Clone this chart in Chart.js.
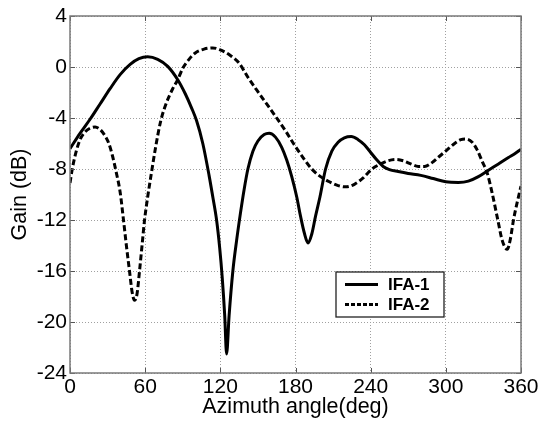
<!DOCTYPE html>
<html><head><meta charset="utf-8">
<script src="https://cdn.jsdelivr.net/npm/chart.js@4.4.1/dist/chart.umd.min.js"></script>
<style>html,body{margin:0;padding:0;background:#fff;}#wrap{width:542px;height:424px;}</style>
</head><body><div id="wrap"><canvas id="c" width="542" height="424"></canvas></div>
<script>
const seriesLabels = ['IFA-1', 'IFA-2'];
const xTicks = [0, 60, 120, 180, 240, 300, 360];
const yTicks = [4, 0, -4, -8, -12, -16, -20, -24];

const ifa1Angles = [0, 8, 16, 24, 32, 40, 48, 55, 62, 70, 78, 86, 92, 97, 101, 106, 111, 114, 117, 119.5, 121.5, 123.5, 125, 127, 130, 133, 136, 139, 142, 146, 150, 155, 159, 164, 169, 173, 177, 181, 184, 187, 190, 193, 196, 199.5, 204, 209, 214, 219, 224.5, 230, 235, 240, 245, 250, 255, 262, 270, 280, 290, 300, 310, 318, 326, 334, 342, 350, 355, 360];
const ifa1Gain = [-6.4, -5.2, -4.1, -2.9, -1.7, -0.6, 0.2, 0.65, 0.8, 0.6, 0.05, -1.0, -2.1, -3.2, -4.2, -6.0, -8.5, -10.2, -12.0, -14.2, -16.5, -19.5, -22.5, -19.5, -16.0, -13.6, -11.5, -9.6, -8.0, -6.6, -5.8, -5.3, -5.2, -5.5, -6.3, -7.3, -8.6, -10.2, -11.7, -13.0, -13.8, -13.1, -11.7, -10.2, -8.0, -6.6, -5.9, -5.55, -5.45, -5.7, -6.1, -6.7, -7.3, -7.8, -8.05, -8.2, -8.35, -8.5, -8.75, -9.0, -9.05, -8.95, -8.6, -8.1, -7.6, -7.1, -6.8, -6.45];

const ifa2Angles = [0, 2, 5, 8, 12, 16, 20, 24, 28, 31, 34, 37, 40, 42.7, 45, 47.5, 49.5, 51.5, 53.5, 55.5, 57.5, 59.5, 62, 65, 68.5, 72.5, 77, 82, 86, 90, 95, 100, 107, 114, 121, 128, 135, 142, 149, 157, 165, 172, 179, 186, 193, 200, 207, 214, 220, 227, 234, 241, 248, 254, 260, 266, 272, 278, 283, 289, 295, 301, 307, 312, 316, 321, 325, 329, 333, 337, 341.5, 345, 349, 351.5, 354, 357, 360];
const ifa2Gain = [-9.1, -7.9, -6.6, -5.7, -5.1, -4.8, -4.7, -4.9, -5.4, -6.0, -7.0, -8.3, -9.8, -12.0, -14.0, -16.0, -17.6, -18.3, -17.8, -16.0, -14.0, -12.0, -10.2, -8.3, -6.2, -4.2, -2.8, -1.7, -1.0, -0.1, 0.6, 1.1, 1.4, 1.5, 1.3, 0.9, 0.3, -0.8, -1.8, -2.9, -4.0, -5.0, -6.1, -7.1, -8.0, -8.6, -9.0, -9.3, -9.4, -9.2, -8.7, -8.0, -7.6, -7.35, -7.25, -7.35, -7.6, -7.8, -7.8, -7.5, -7.0, -6.5, -6.0, -5.7, -5.65, -5.9, -6.5, -7.4, -8.3, -9.9, -12.0, -13.6, -14.3, -13.5, -12.0, -10.6, -9.35];

const FONT = "'Liberation Sans', Arial, sans-serif";
const toPts = (xs, ys) => xs.map((v, i) => ({x: v, y: ys[i]}));

const framePlugin = {
  id: 'frame',
  afterDatasetsDraw(chart) {
    const {ctx, chartArea: {left, right, top, bottom}, scales: {x, y}} = chart;
    ctx.save();
    ctx.strokeStyle = '#555';
    ctx.lineWidth = 1;
    ctx.beginPath();
    x.ticks.forEach(t => {
      const px = Math.round(x.getPixelForValue(t.value)) + 0.5;
      ctx.moveTo(px, bottom); ctx.lineTo(px, bottom - 5);
      ctx.moveTo(px, top); ctx.lineTo(px, top + 5);
    });
    y.ticks.forEach(t => {
      const py = Math.round(y.getPixelForValue(t.value)) + 0.5;
      ctx.moveTo(left, py); ctx.lineTo(left + 5, py);
      ctx.moveTo(right, py); ctx.lineTo(right - 5, py);
    });
    ctx.stroke();
    ctx.strokeStyle = '#7a7a7a';
    ctx.lineWidth = 1.5;
    ctx.strokeRect(left, top, right - left, bottom - top);
    const bx = 336, by = 272, bw = 108, bh = 45;
    ctx.fillStyle = '#fff';
    ctx.fillRect(bx, by, bw, bh);
    ctx.strokeStyle = '#222';
    ctx.lineWidth = 1.3;
    ctx.strokeRect(bx, by, bw, bh);
    chart.data.datasets.forEach((ds, i) => {
      const ly = by + 12.5 + i * 20;
      ctx.strokeStyle = ds.borderColor;
      ctx.lineWidth = 3;
      ctx.setLineDash(i === 0 ? [] : [4, 2]);
      ctx.beginPath();
      ctx.moveTo(bx + 9, ly); ctx.lineTo(bx + 42, ly);
      ctx.stroke();
      ctx.setLineDash([]);
      ctx.fillStyle = '#000';
      ctx.font = 'bold 17px ' + FONT;
      ctx.textBaseline = 'middle';
      ctx.textAlign = 'left';
      ctx.fillText(ds.label, bx + 52, ly + 0.5);
    });
    ctx.restore();
  }
};

new Chart(document.getElementById('c'), {
  type: 'line',
  data: {
    datasets: [
      {label: seriesLabels[0], data: toPts(ifa1Angles, ifa1Gain), borderColor: '#000', borderWidth: 3,
       pointRadius: 0, cubicInterpolationMode: 'monotone', fill: false},
      {label: seriesLabels[1], data: toPts(ifa2Angles, ifa2Gain), borderColor: '#000', borderWidth: 3,
       borderDash: [6, 3], pointRadius: 0, cubicInterpolationMode: 'monotone', fill: false}
    ]
  },
  options: {
    responsive: false,
    animation: false,
    devicePixelRatio: 1,
    layout: {padding: {top: 16, right: 21, left: 0, bottom: 0}},
    plugins: {legend: {display: false}, tooltip: {enabled: false}},
    scales: {
      x: {
        type: 'linear', min: 0, max: 360,
        afterBuildTicks: s => { s.ticks = xTicks.map(v => ({value: v})); },
        afterFit: s => { s.height = 51; },
        grid: {color: '#a0a0a0', lineWidth: 1, drawTicks: false},
        border: {display: false, dash: [1, 2]},
        ticks: {color: '#000', padding: 2, font: {family: FONT, size: 21}, maxRotation: 0},
        title: {display: true, text: 'Azimuth angle(deg)', color: '#000',
                font: {family: FONT, size: 21.5}, padding: {top: 0, bottom: 4}}
      },
      y: {
        type: 'linear', min: -24, max: 4,
        afterBuildTicks: s => { s.ticks = yTicks.map(v => ({value: v})); },
        afterFit: s => { s.width = 70; },
        grid: {color: '#a0a0a0', lineWidth: 1, drawTicks: false},
        border: {display: false, dash: [1, 2]},
        ticks: {color: '#000', padding: 3, font: {family: FONT, size: 21}},
        title: {display: true, text: 'Gain (dB)', color: '#000',
                font: {family: FONT, size: 21.5}, padding: {top: 7, bottom: 0}}
      }
    }
  },
  plugins: [framePlugin]
});
</script></body></html>
